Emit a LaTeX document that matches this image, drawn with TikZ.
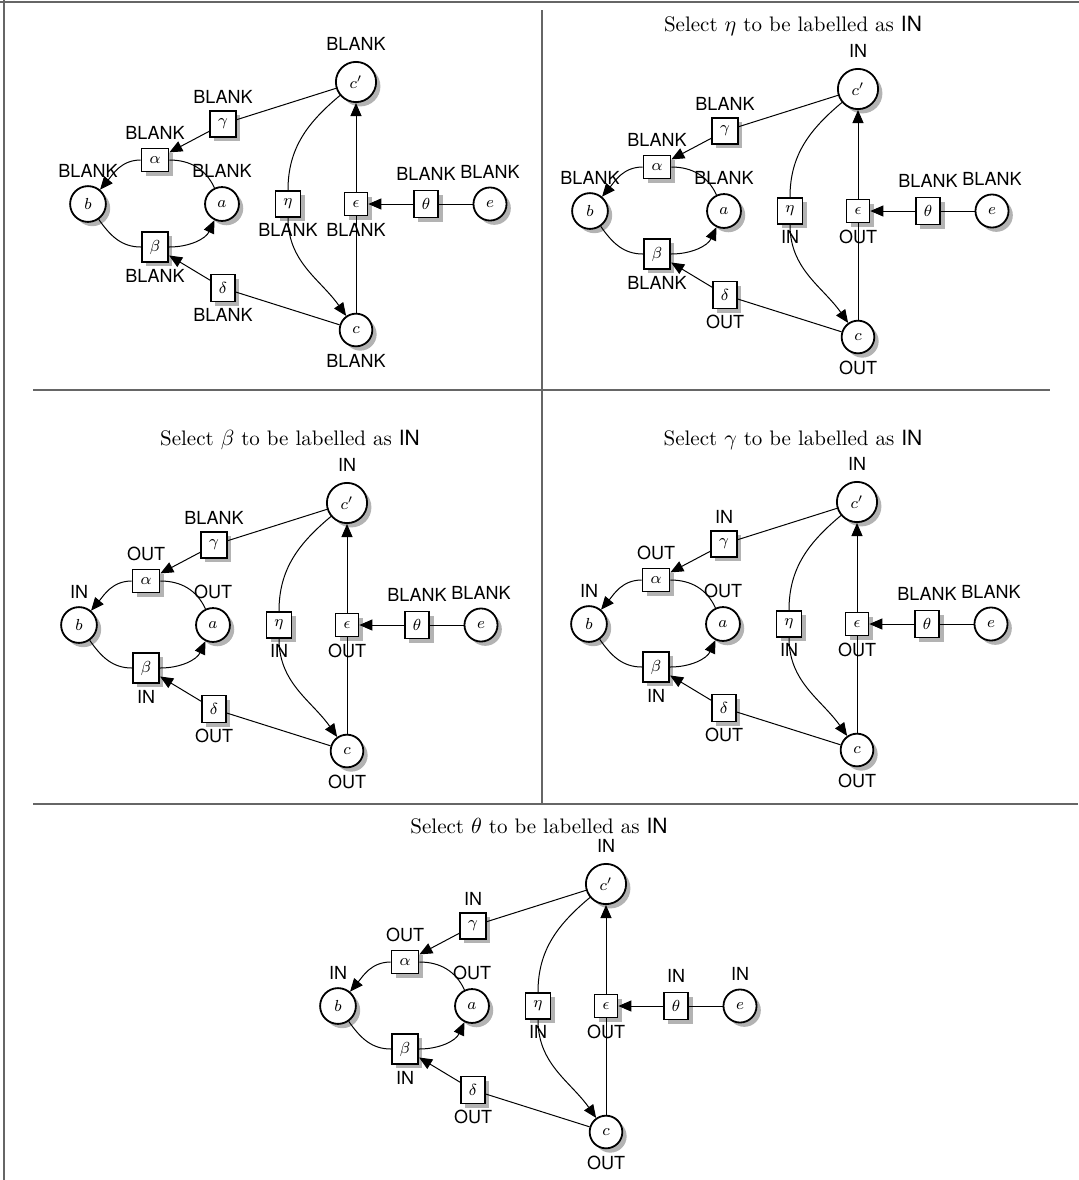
\documentclass[tikz,border=0pt]{standalone}
\usepackage{amsmath}
\usepackage{fontspec}
\setsansfont{TeX Gyre Heros}
\usepackage{tikz}
\usetikzlibrary{positioning}
\usetikzlibrary{shadows}
\usetikzlibrary{arrows.meta}

\tikzset{
	place/.style = {circle, draw, fill = white, line width = 0.9pt, inner sep = 4pt, drop shadow = {opacity = 0.6}, font = \footnotesize},
	transition/.style = {rectangle, draw, fill = white, line width = 0.9pt, inner sep = 4pt, drop shadow = {opacity = 0.6}, font = \footnotesize},
	tag/.style = {font = \sffamily\small, inner sep = 0pt, on grid},
	heading/.style = {font = \fontsize{10.5}{12}\selectfont},
	arc/.style = {line width = 0.5pt},
	flow/.style = {line width = 0.5pt, -{Triangle[length = 6.5pt, width = 5.5pt]}},
	rule/.style = {draw = black!60, line width = 1pt}
}

\begin{document}
\begin{tikzpicture}[x = 0.5pt, y = 0.5pt]
	\useasboundingbox (0,0) rectangle (1079,-1180);
	% table rules
	\draw[rule] (0,-2) -- (1079,-2);
	\draw[rule] (3.5,0) -- (3.5,-1180);
	\draw[rule] (33,-389.5) -- (1050,-389.5);
	\draw[rule] (33,-803.5) -- (1078,-803.5);
	\draw[rule] (541.5,-10) -- (541.5,-803.5);
	% one net per cell
	\foreach \px/\py/\tx/\ty/\ttl/\Lcp/\Lga/\Lal/\Lb/\La/\Lbe/\Lde/\Lc/\Let/\Lep/\Lth/\Le in {
		356/204/0/0/{}/BLANK/BLANK/BLANK/BLANK/BLANK/BLANK/BLANK/BLANK/BLANK/BLANK/BLANK/BLANK,
		858/211/793/26/{Select $\eta$ to be labelled as \textsf{IN}}/IN/BLANK/BLANK/BLANK/BLANK/BLANK/OUT/OUT/IN/OUT/BLANK/BLANK,
		347/625/290/440/{Select $\beta$ to be labelled as \textsf{IN}}/IN/BLANK/OUT/IN/OUT/IN/OUT/OUT/IN/OUT/BLANK/BLANK,
		857/624/793/440/{Select $\gamma$ to be labelled as \textsf{IN}}/IN/IN/OUT/IN/OUT/IN/OUT/OUT/IN/OUT/BLANK/BLANK,
		606/1006/539/826/{Select $\theta$ to be labelled as \textsf{IN}}/IN/IN/OUT/IN/OUT/IN/OUT/OUT/IN/OUT/IN/IN}{
		\node[heading] (title) at (\tx,-\ty) {\ttl};
		\begin{scope}[shift = {(\px,-\py)}]
			\node[transition] (eps) at (0,0) {$\epsilon$};
			\node[transition] (eta) at (-68,0) {$\eta$};
			\node[transition] (theta) at (70,0) {$\theta$};
			\node[place] (e) at (134,0) {$e$};
			\node[place] (a) at (-134,0) {$a$};
			\node[place] (b) at (-268,0) {$b$};
			\node[place] (cp) at (0,122) {$c'$};
			\node[place] (c) at (0,-126) {$c$};
			\node[transition] (gamma) at (-133,80) {$\gamma$};
			\node[transition] (alpha) at (-201,44) {$\alpha$};
			\node[transition] (beta) at (-201,-43) {$\beta$};
			\node[transition] (delta) at (-133,-84) {$\delta$};
			% labels
			\node[tag, above = 19pt of cp] (cpl) {\Lcp};
			\node[tag, above = 13.5pt of gamma] (gammal) {\Lga};
			\node[tag, above = 13.5pt of alpha] (alphal) {\Lal};
			\node[tag, above = 16.5pt of b] (bl) {\Lb};
			\node[tag, above = 16.5pt of a] (al) {\La};
			\node[tag, below = 14.5pt of beta] (betal) {\Lbe};
			\node[tag, below = 13.5pt of delta] (deltal) {\Lde};
			\node[tag, below = 15.5pt of c] (cl) {\Lc};
			\node[tag, below = 13pt of eta] (etal) {\Let};
			\node[tag, below = 13pt of eps] (epsl) {\Lep};
			\node[tag, above = 15pt of theta] (thetal) {\Lth};
			\node[tag, above = 16pt of e] (el) {\Le};
			% arcs
			\draw[arc] (cp) -- (gamma);
			\draw[flow] (gamma) -- (alpha);
			\draw[arc] (a) to[out = 115, in = 0] (alpha);
			\draw[flow] (alpha) to[out = 180, in = 50] (b);
			\draw[arc] (b) to[out = -55, in = 180] (beta);
			\draw[flow] (beta) to[out = 0, in = -115] (a);
			\draw[arc] (c) -- (delta);
			\draw[flow] (delta) -- (beta);
			\draw[arc] (cp) to[out = -140, in = 90] (eta);
			\draw[flow] (eta) to[out = -90, in = 125] (c);
			\draw[arc] (c) -- (eps);
			\draw[flow] (eps) -- (cp);
			\draw[arc] (e) -- (theta);
			\draw[flow] (theta) -- (eps);
		\end{scope}
	}
\end{tikzpicture}
\end{document}
